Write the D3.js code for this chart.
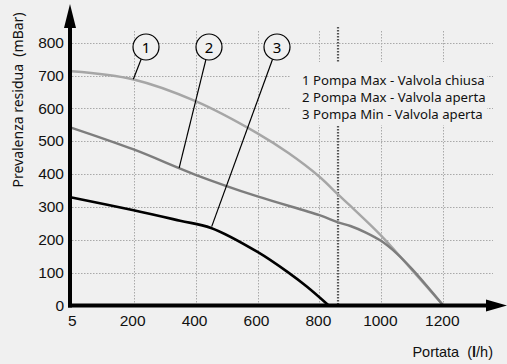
<!DOCTYPE html>
<html>
<head>
<meta charset="utf-8">
<script src="https://cdn.jsdelivr.net/npm/d3@7"></script>
<style>
  html, body { margin: 0; padding: 0; background: #f0f0f0; }
  svg { display: block; }
</style>
</head>
<body>
<script>
// Pump residual head curves (Portata l/h vs Prevalenza residua mBar)
const flowTicks = [5, 200, 400, 600, 800, 1000, 1200];
const headTicks = [0, 100, 200, 300, 400, 500, 600, 700, 800];

const curve1Flow = [0, 200, 400, 600, 700, 800, 860, 900, 1000, 1100, 1200];
const curve1Head = [713, 688, 622, 524, 464, 392, 338, 303, 212, 107, 0];

const curve2Flow = [0, 200, 400, 600, 800, 860, 900, 950, 1000, 1050, 1100, 1200];
const curve2Head = [541, 475, 398, 332, 275, 253, 242, 222, 196, 158, 110, 0];

const curve3Flow = [0, 200, 350, 450, 600, 700, 760, 830];
const curve3Head = [329, 290, 258, 236, 163, 100, 57, 0];

const curveIds = ["1", "2", "3"];
const curveColors = ["#a6a6a6", "#7d7d7d", "#000000"];
const legendLines = [
  "1 Pompa Max - Valvola chiusa",
  "2 Pompa Max - Valvola aperta",
  "3 Pompa Min - Valvola aperta"
];
// flow / head where each numbered callout points on its curve
const calloutFlow = [199, 347, 452];
const calloutHead = [689, 419, 240];
const limitFlow = 860;

const W = 507, H = 364, bg = "#f0f0f0";
const svg = d3.select("body").append("svg").attr("width", W).attr("height", H);
svg.append("rect").attr("width", W).attr("height", H).attr("fill", bg);

const x = d3.scaleLinear().domain([0, 1200]).range([71.7, 443.3]);
const y = d3.scaleLinear().domain([0, 800]).range([305.5, 42.7]);

// grid
const grid = svg.append("g").attr("stroke", "#a9a9a9").attr("stroke-width", 1)
  .attr("stroke-dasharray", "1.5,1.5").attr("fill", "none");
headTicks.filter(d => d > 0).forEach(d => {
  grid.append("line").attr("x1", 72).attr("x2", 493)
    .attr("y1", Math.round(y(d)) + 0.5).attr("y2", Math.round(y(d)) + 0.5);
});
flowTicks.filter(d => d > 5).forEach(d => {
  grid.append("line").attr("y1", 31).attr("y2", 305)
    .attr("x1", Math.round(x(d)) + 0.5).attr("x2", Math.round(x(d)) + 0.5);
});

// limit marker
svg.append("line")
  .attr("x1", x(limitFlow)).attr("x2", x(limitFlow))
  .attr("y1", y(848)).attr("y2", y(0))
  .attr("stroke", "#555").attr("stroke-width", 2.2)
  .attr("stroke-dasharray", "1.6,1.4");

// legend block with its own background
svg.append("rect").attr("x", 290).attr("y", 62).attr("width", 197).attr("height", 63).attr("fill", bg);
svg.append("g").selectAll("text").data(legendLines).join("text")
  .attr("x", 302).attr("y", (d, i) => 85 + i * 17)
  .attr("font-family", "'Noto Sans', sans-serif").attr("font-size", 13.2)
  .attr("fill", "#111").text(d => d);

// curves
const series = [
  curve1Flow.map((f, i) => [f, curve1Head[i]]),
  curve2Flow.map((f, i) => [f, curve2Head[i]]),
  curve3Flow.map((f, i) => [f, curve3Head[i]])
];
const line = d3.line().x(d => x(d[0])).y(d => y(d[1])).curve(d3.curveCatmullRom.alpha(0.5));
svg.append("g").selectAll("path").data(series).join("path")
  .attr("d", line).attr("fill", "none")
  .attr("stroke", (d, i) => curveColors[i])
  .attr("stroke-width", (d, i) => i === 2 ? 2.6 : 2.4);

// callouts
const circleX = [146, 209, 277], circleY = 47, r = 13;
curveIds.forEach((id, i) => {
  const px = x(calloutFlow[i]), py = y(calloutHead[i]);
  const dx = px - circleX[i], dy = py - circleY, len = Math.hypot(dx, dy);
  svg.append("line")
    .attr("x1", circleX[i] + dx / len * r).attr("y1", circleY + dy / len * r)
    .attr("x2", px).attr("y2", py)
    .attr("stroke", "#000").attr("stroke-width", 1.2);
  svg.append("circle").attr("cx", circleX[i]).attr("cy", circleY).attr("r", r)
    .attr("fill", bg).attr("stroke", "#000").attr("stroke-width", 1.2);
  svg.append("text").attr("x", circleX[i]).attr("y", circleY + 5.5)
    .attr("text-anchor", "middle")
    .attr("font-family", "'Noto Sans', sans-serif").attr("font-size", 15)
    .attr("fill", "#000").text(id);
});

// axes
svg.append("line").attr("x1", 70).attr("x2", 70).attr("y1", 25).attr("y2", 307.5)
  .attr("stroke", "#000").attr("stroke-width", 4);
svg.append("line").attr("x1", 68).attr("x2", 488).attr("y1", 305.5).attr("y2", 305.5)
  .attr("stroke", "#000").attr("stroke-width", 4);
svg.append("path").attr("d", "M70,4 L64,28 L76,28 Z").attr("fill", "#000");
svg.append("path").attr("d", "M507,305.5 L486,299.5 L486,311.5 Z").attr("fill", "#000");

const yAxis = d3.axisLeft(y).tickValues(headTicks).tickSize(0).tickPadding(0);
svg.append("g").attr("transform", "translate(64,0)").call(yAxis)
  .call(g => g.select(".domain").remove())
  .selectAll("text").attr("font-family", "'Liberation Sans', Arial, sans-serif")
  .attr("font-size", 15.5).attr("fill", "#111").attr("dy", "0.3em");

const xAxis = d3.axisBottom(x).tickValues(flowTicks).tickSize(0).tickPadding(0)
  .tickFormat(d3.format("d"));
svg.append("g").attr("transform", "translate(-1.5,315)").call(xAxis)
  .call(g => g.select(".domain").remove())
  .selectAll("text").attr("font-family", "'Liberation Sans', Arial, sans-serif")
  .attr("font-size", 15.5).attr("fill", "#111").attr("dy", "0.72em");

// axis titles
svg.append("text")
  .attr("transform", "translate(23,100) rotate(-90)")
  .attr("text-anchor", "middle")
  .attr("font-family", "'Noto Sans', sans-serif").attr("font-size", 14)
  .attr("fill", "#111").attr("xml:space", "preserve")
  .text("Prevalenza residua  (mBar)");

const xt = svg.append("text").attr("x", 493).attr("y", 357).attr("text-anchor", "end")
  .attr("font-family", "'Liberation Sans', Arial, sans-serif").attr("font-size", 14.5)
  .attr("fill", "#111").attr("xml:space", "preserve");
xt.append("tspan").text("Portata  (");
xt.append("tspan").attr("font-weight", "bold").text("l");
xt.append("tspan").text("/h)");
</script>
</body>
</html>
